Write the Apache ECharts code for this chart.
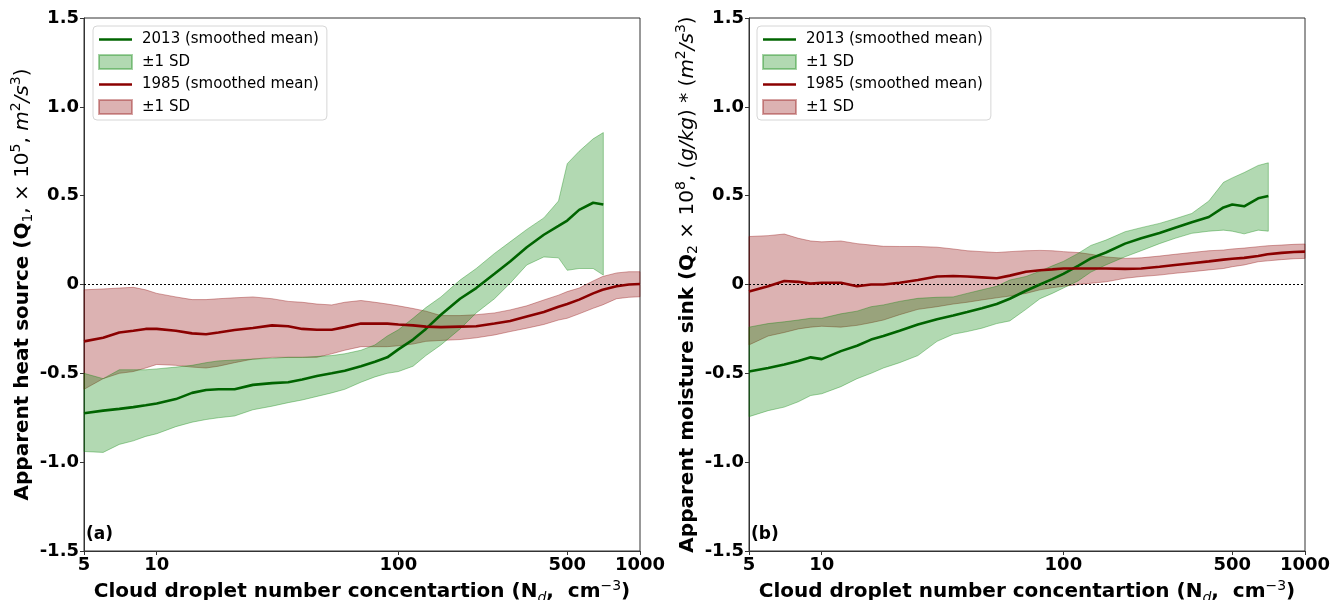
<!DOCTYPE html>
<html>
<head>
<meta charset="utf-8">
<script src="https://cdn.jsdelivr.net/npm/echarts@6/dist/echarts.min.js"></script>
<style>
  html, body { margin: 0; padding: 0; background: #fff; }
  #chart { width: 1333px; height: 600px; }
</style>
</head>
<body>
<div id="chart"></div>
<script>
// x positions (Nd, cm^-3)
const x2013 = [5, 6, 7, 8, 9, 10, 12, 14, 16, 18, 21, 25, 30, 35, 40, 46, 53, 60, 70, 80, 90, 100, 115, 130, 150, 180, 210, 250, 290, 340, 400, 460, 500, 560, 640, 705];
const x1985 = [5, 6, 7, 8, 9, 10, 12, 14, 16, 18, 21, 25, 30, 35, 40, 46, 53, 60, 70, 80, 90, 100, 115, 130, 150, 180, 210, 250, 290, 340, 400, 460, 500, 560, 640, 700, 800, 900, 1000];

// (a) apparent heat source
const heat2013Mean = [-0.725, -0.71, -0.70, -0.69, -0.68, -0.67, -0.645, -0.61, -0.594, -0.59, -0.59, -0.565, -0.555, -0.55, -0.535, -0.515, -0.50, -0.485, -0.46, -0.435, -0.41, -0.365, -0.31, -0.25, -0.17, -0.08, -0.02, 0.06, 0.13, 0.21, 0.28, 0.33, 0.36, 0.42, 0.46, 0.45];
const heat2013Upper = [-0.50, -0.53, -0.48, -0.48, -0.48, -0.475, -0.465, -0.455, -0.44, -0.43, -0.425, -0.42, -0.415, -0.41, -0.41, -0.405, -0.40, -0.39, -0.37, -0.34, -0.29, -0.255, -0.19, -0.13, -0.07, 0.025, 0.09, 0.175, 0.24, 0.31, 0.375, 0.47, 0.68, 0.75, 0.82, 0.855];
const heat2013Lower = [-0.94, -0.945, -0.90, -0.88, -0.855, -0.84, -0.80, -0.775, -0.76, -0.75, -0.74, -0.705, -0.685, -0.665, -0.65, -0.63, -0.61, -0.59, -0.55, -0.52, -0.50, -0.49, -0.46, -0.40, -0.34, -0.25, -0.16, -0.08, 0.007, 0.11, 0.155, 0.15, 0.08, 0.09, 0.09, 0.053];
const heat1985Mean = [-0.32, -0.30, -0.27, -0.26, -0.25, -0.25, -0.26, -0.275, -0.28, -0.27, -0.256, -0.245, -0.23, -0.235, -0.25, -0.255, -0.255, -0.24, -0.22, -0.22, -0.22, -0.225, -0.23, -0.237, -0.24, -0.237, -0.235, -0.22, -0.205, -0.18, -0.155, -0.125, -0.11, -0.085, -0.05, -0.03, -0.01, 0.0, 0.003];
const heat1985Upper = [-0.03, -0.025, -0.02, -0.016, -0.03, -0.05, -0.07, -0.085, -0.085, -0.08, -0.075, -0.07, -0.08, -0.095, -0.10, -0.11, -0.115, -0.10, -0.09, -0.10, -0.11, -0.12, -0.135, -0.15, -0.175, -0.175, -0.17, -0.16, -0.143, -0.12, -0.087, -0.06, -0.04, -0.02, 0.02, 0.045, 0.065, 0.072, 0.072];
const heat1985Lower = [-0.59, -0.53, -0.50, -0.49, -0.47, -0.45, -0.455, -0.465, -0.47, -0.46, -0.44, -0.42, -0.41, -0.41, -0.41, -0.41, -0.39, -0.37, -0.35, -0.35, -0.35, -0.345, -0.335, -0.32, -0.315, -0.31, -0.30, -0.284, -0.265, -0.246, -0.225, -0.20, -0.19, -0.165, -0.134, -0.115, -0.08, -0.072, -0.069];

// (b) apparent moisture sink
const moist2013Mean = [-0.49, -0.47, -0.45, -0.43, -0.41, -0.42, -0.375, -0.345, -0.31, -0.29, -0.26, -0.225, -0.195, -0.175, -0.155, -0.134, -0.11, -0.08, -0.035, 0.0, 0.03, 0.06, 0.105, 0.147, 0.18, 0.23, 0.26, 0.29, 0.32, 0.35, 0.38, 0.434, 0.45, 0.44, 0.485, 0.498];
const moist2013Upper = [-0.24, -0.22, -0.21, -0.20, -0.19, -0.19, -0.165, -0.15, -0.125, -0.115, -0.095, -0.078, -0.072, -0.07, -0.05, -0.03, -0.01, 0.025, 0.045, 0.075, 0.105, 0.13, 0.175, 0.22, 0.25, 0.297, 0.32, 0.344, 0.37, 0.40, 0.47, 0.575, 0.60, 0.63, 0.67, 0.685];
const moist2013Lower = [-0.744, -0.71, -0.69, -0.66, -0.625, -0.615, -0.575, -0.53, -0.50, -0.47, -0.44, -0.40, -0.32, -0.28, -0.265, -0.246, -0.22, -0.205, -0.14, -0.08, -0.05, -0.02, 0.02, 0.07, 0.11, 0.156, 0.19, 0.23, 0.26, 0.288, 0.30, 0.306, 0.30, 0.285, 0.306, 0.30];
const moist1985Mean = [-0.04, -0.01, 0.02, 0.015, 0.005, 0.01, 0.01, -0.01, 0.0, 0.0, 0.01, 0.025, 0.045, 0.048, 0.045, 0.04, 0.035, 0.05, 0.072, 0.08, 0.085, 0.09, 0.09, 0.09, 0.09, 0.088, 0.09, 0.10, 0.11, 0.12, 0.13, 0.14, 0.145, 0.15, 0.16, 0.17, 0.178, 0.183, 0.185];
const moist1985Upper = [0.27, 0.275, 0.284, 0.26, 0.245, 0.24, 0.245, 0.23, 0.222, 0.215, 0.214, 0.214, 0.21, 0.20, 0.19, 0.185, 0.18, 0.185, 0.19, 0.192, 0.19, 0.185, 0.18, 0.17, 0.155, 0.147, 0.15, 0.16, 0.17, 0.18, 0.19, 0.194, 0.20, 0.205, 0.213, 0.218, 0.222, 0.226, 0.228];
const moist1985Lower = [-0.34, -0.29, -0.27, -0.25, -0.24, -0.235, -0.24, -0.23, -0.215, -0.2, -0.17, -0.14, -0.125, -0.11, -0.10, -0.087, -0.075, -0.065, -0.05, -0.03, -0.018, -0.01, 0.0, 0.007, 0.015, 0.035, 0.045, 0.053, 0.063, 0.072, 0.082, 0.09, 0.10, 0.11, 0.128, 0.133, 0.14, 0.145, 0.147];

const xTicks = [5, 10, 100, 500, 1000];

const FONT = "DejaVu Sans";
const GREEN_LINE = "#006400";
const RED_LINE = "#8b0000";
const GREEN_FILL = "rgba(0,128,0,0.3)";
const GREEN_EDGE = "rgba(0,128,0,0.35)";
const RED_FILL = "rgba(139,0,0,0.3)";
const RED_EDGE = "rgba(139,0,0,0.35)";
const LINE_ICON = "path://M0,0 H40 V3 H0 Z";

const lg = (v) => Math.log10(v);

// 均值曲线
const meanLine = (name, xs, ys, color, idx, withZero) => {
  const s = {
    name,
    type: "line",
    xAxisIndex: idx,
    yAxisIndex: idx,
    data: xs.map((x, i) => [lg(x), ys[i]]),
    symbol: "none",
    showSymbol: false,
    lineStyle: { color, width: 2.6 },
    itemStyle: { color },
    z: 5,
    silent: true,
  };
  if (withZero) {
    s.markLine = {
      silent: true,
      symbol: ["none", "none"],
      label: { show: false },
      lineStyle: { color: "#000", type: [2, 2], width: 1.2 },
      data: [{ yAxis: 0 }],
    };
  }
  return s;
};

// ±1 SD 阴影
const band = (name, xs, lo, hi, fill, edge, idx) => {
  const data = xs.map((x, i) => [lg(x), lo[i], hi[i]]);
  return {
    name,
    type: "custom",
    xAxisIndex: idx,
    yAxisIndex: idx,
    data,
    encode: { x: 0, y: [1, 2] },
    itemStyle: { color: fill, borderColor: edge, borderWidth: 1 },
    silent: true,
    z: 2,
    renderItem: (params, api) => {
      if (params.dataIndex !== 0) return null;
      const top = data.map((d) => api.coord([d[0], d[2]]));
      const bot = data.map((d) => api.coord([d[0], d[1]])).reverse();
      return {
        type: "polygon",
        shape: { points: top.concat(bot) },
        style: { fill, stroke: edge, lineWidth: 1 },
      };
    },
  };
};

const richName = {
  b: { fontFamily: FONT, fontSize: 20, fontWeight: "bold", color: "#000", lineHeight: 26 },
  n: { fontFamily: FONT, fontSize: 20, color: "#000", lineHeight: 26 },
  i: { fontFamily: FONT, fontSize: 20, fontStyle: "italic", color: "#000", lineHeight: 26 },
  sub: { fontFamily: FONT, fontSize: 14, color: "#000", verticalAlign: "bottom", lineHeight: 26 },
  isub: { fontFamily: FONT, fontSize: 14, fontStyle: "italic", color: "#000", verticalAlign: "bottom", lineHeight: 26 },
  sup: { fontFamily: FONT, fontSize: 14, color: "#000", verticalAlign: "top", lineHeight: 26 },
};

const xAxisOf = (idx) => ({
  type: "value",
  gridIndex: idx,
  min: lg(5),
  max: lg(1000),
  name: "{b|Cloud droplet number concentartion (N}{isub|d}{b|,  cm}{sup|−3}{b|)}",
  nameLocation: "middle",
  nameGap: 25,
  nameTextStyle: { rich: richName },
  axisLine: { show: true, onZero: false, lineStyle: { color: "#333", width: 1 } },
  axisTick: { show: true, length: 4, customValues: xTicks.map(lg), lineStyle: { color: "#333" } },
  axisLabel: {
    customValues: xTicks.map(lg),
    formatter: (v) => String(Math.round(Math.pow(10, v))),
    fontFamily: FONT,
    fontSize: 18,
    fontWeight: "bold",
    color: "#000",
    margin: 5,
  },
  splitLine: { show: false },
});

const yAxisOf = (idx, name) => ({
  type: "value",
  gridIndex: idx,
  min: -1.5,
  max: 1.5,
  interval: 0.5,
  name,
  nameLocation: "middle",
  nameRotate: 90,
  nameGap: 47,
  nameTextStyle: { rich: richName },
  axisLine: { show: true, onZero: false, lineStyle: { color: "#333", width: 1 } },
  axisTick: { show: true, length: 4, lineStyle: { color: "#333" } },
  axisLabel: {
    formatter: (v) => (Math.abs(v) < 1e-9 ? "0" : v.toFixed(1)),
    fontFamily: FONT,
    fontSize: 18,
    fontWeight: "bold",
    color: "#000",
    margin: 5,
  },
  splitLine: { show: false },
});

const legendOf = (left) => ({
  orient: "vertical",
  left,
  top: 26,
  padding: [6, 8, 5, 5],
  itemGap: 7,
  itemWidth: 33,
  itemHeight: 14,
  backgroundColor: "#fff",
  borderColor: "#d6d6d6",
  borderWidth: 1,
  borderRadius: 4,
  selectedMode: false,
  textStyle: { fontFamily: FONT, fontSize: 15, color: "#000", padding: [0, 0, 0, 5] },
  data: [
    { name: "2013 (smoothed mean)", icon: LINE_ICON },
    { name: "±1 SD", icon: "rect" },
    { name: "1985 (smoothed mean)", icon: LINE_ICON },
    { name: "±1 SD ", icon: "rect" },
  ],
});

const option = {
  backgroundColor: "#fff",
  animation: false,
  title: [
    { text: "(a)", left: 86, top: 526, padding: 0, textStyle: { fontFamily: FONT, fontSize: 17, fontWeight: "bold", color: "#000" } },
    { text: "(b)", left: 751, top: 526, padding: 0, textStyle: { fontFamily: FONT, fontSize: 17, fontWeight: "bold", color: "#000" } },
  ],
  grid: [
    { left: 84, right: 693, top: 18, bottom: 49, outerBoundsMode: "none", show: true, borderColor: "#333", borderWidth: 1, backgroundColor: "#fff" },
    { left: 749, right: 28, top: 18, bottom: 49, outerBoundsMode: "none", show: true, borderColor: "#333", borderWidth: 1, backgroundColor: "#fff" },
  ],
  legend: [legendOf(93), legendOf(757)],
  xAxis: [xAxisOf(0), xAxisOf(1)],
  yAxis: [
    yAxisOf(0, "{b|Apparent heat source (Q}{sub|1}{n|, × 10}{sup|5}{n|, }{i|m}{sup|2}{i|/s}{sup|3}{n|)}"),
    yAxisOf(1, "{b|Apparent moisture sink (Q}{sub|2}{n| × 10}{sup|8}{n|, (}{i|g/kg}{n|) * (}{i|m}{sup|2}{i|/s}{sup|3}{n|)}"),
  ],
  series: [
    band("±1 SD ", x1985, heat1985Lower, heat1985Upper, RED_FILL, RED_EDGE, 0),
    band("±1 SD", x2013, heat2013Lower, heat2013Upper, GREEN_FILL, GREEN_EDGE, 0),
    meanLine("2013 (smoothed mean)", x2013, heat2013Mean, GREEN_LINE, 0, true),
    meanLine("1985 (smoothed mean)", x1985, heat1985Mean, RED_LINE, 0, false),

    band("±1 SD ", x1985, moist1985Lower, moist1985Upper, RED_FILL, RED_EDGE, 1),
    band("±1 SD", x2013, moist2013Lower, moist2013Upper, GREEN_FILL, GREEN_EDGE, 1),
    meanLine("2013 (smoothed mean)", x2013, moist2013Mean, GREEN_LINE, 1, true),
    meanLine("1985 (smoothed mean)", x1985, moist1985Mean, RED_LINE, 1, false),
  ],
};

const myChart = echarts.init(document.getElementById("chart"));
myChart.setOption(option);
</script>
</body>
</html>
